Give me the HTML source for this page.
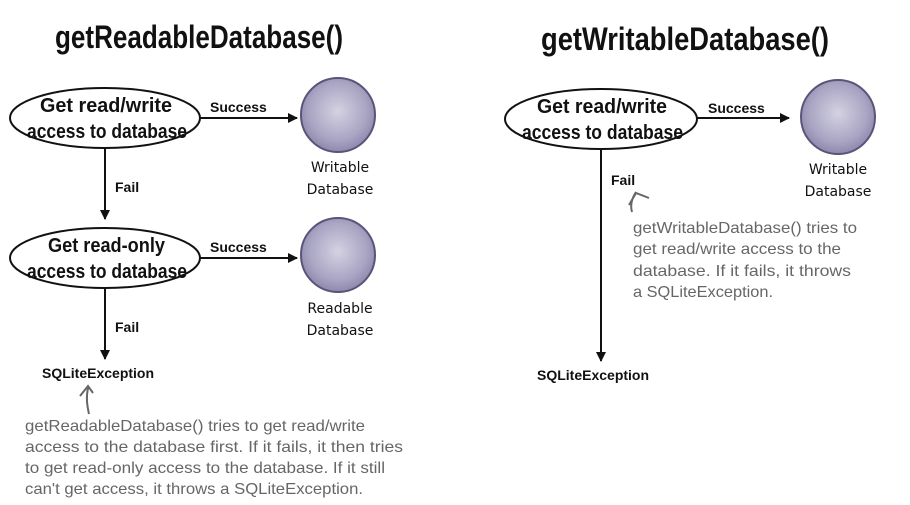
<!DOCTYPE html>
<html><head><meta charset="utf-8"><style>
html,body{margin:0;padding:0;background:#fff;}
svg{display:block;}
.t{font-family:"Liberation Sans Narrow","Liberation Sans",sans-serif;font-weight:bold;fill:#111;}
.b{font-family:"Liberation Sans",sans-serif;font-weight:bold;fill:#111;font-size:14px;}
.l{font-family:"DejaVu Sans",sans-serif;fill:#111;font-size:14px;}
.h{font-family:"Liberation Sans Narrow","Liberation Sans",sans-serif;fill:#666;font-size:16px;}
</style></head><body>
<svg width="910" height="505" viewBox="0 0 910 505" xmlns="http://www.w3.org/2000/svg">
<defs>
<radialGradient id="g" cx="50%" cy="45%" r="55%">
<stop offset="0" stop-color="#d4d2e2"/><stop offset="0.7" stop-color="#a9a5c3"/><stop offset="1" stop-color="#8e89ad"/>
</radialGradient>
<marker id="a" markerWidth="10" markerHeight="10" refX="9" refY="5" orient="auto" markerUnits="userSpaceOnUse"><path d="M0,0 L10,5 L0,10 z" fill="#111"/></marker>
</defs>
<text class="t" x="55" y="48" font-size="32" textLength="288" lengthAdjust="spacingAndGlyphs">getReadableDatabase()</text>
<text class="t" x="541" y="50" font-size="32" textLength="288" lengthAdjust="spacingAndGlyphs">getWritableDatabase()</text>

<!-- left -->
<ellipse cx="105" cy="118" rx="95" ry="30" fill="#fff" stroke="#111" stroke-width="2"/>
<text class="t" x="40" y="112" font-size="20" textLength="132" lengthAdjust="spacingAndGlyphs">Get read/write</text>
<text class="t" x="27" y="138" font-size="20" textLength="160" lengthAdjust="spacingAndGlyphs">access to database</text>
<line x1="200" y1="118" x2="297" y2="118" stroke="#111" stroke-width="2" marker-end="url(#a)"/>
<text class="b" x="210" y="112">Success</text>
<circle cx="338" cy="115" r="37" fill="url(#g)" stroke="#5a5578" stroke-width="2"/>
<text class="l" x="340" y="172" text-anchor="middle">Writable</text>
<text class="l" x="340" y="194" text-anchor="middle">Database</text>
<line x1="105" y1="148" x2="105" y2="219" stroke="#111" stroke-width="2" marker-end="url(#a)"/>
<text class="b" x="115" y="192">Fail</text>

<ellipse cx="105" cy="258" rx="95" ry="30" fill="#fff" stroke="#111" stroke-width="2"/>
<text class="t" x="48" y="252" font-size="20" textLength="117" lengthAdjust="spacingAndGlyphs">Get read-only</text>
<text class="t" x="27" y="278" font-size="20" textLength="160" lengthAdjust="spacingAndGlyphs">access to database</text>
<line x1="200" y1="258" x2="297" y2="258" stroke="#111" stroke-width="2" marker-end="url(#a)"/>
<text class="b" x="210" y="252">Success</text>
<circle cx="338" cy="255" r="37" fill="url(#g)" stroke="#5a5578" stroke-width="2"/>
<text class="l" x="340" y="313" text-anchor="middle">Readable</text>
<text class="l" x="340" y="335" text-anchor="middle">Database</text>
<line x1="105" y1="288" x2="105" y2="359" stroke="#111" stroke-width="2" marker-end="url(#a)"/>
<text class="b" x="115" y="332">Fail</text>
<text class="b" x="42" y="378">SQLiteException</text>
<path d="M89,414 C87,405 86,398 88,388 M80,396 L88,386 L93,393" fill="none" stroke="#666" stroke-width="2"/>
<text class="h" x="25" y="431" textLength="340" lengthAdjust="spacingAndGlyphs">getReadableDatabase() tries to get read/write</text>
<text class="h" x="25" y="452" textLength="378" lengthAdjust="spacingAndGlyphs">access to the database first. If it fails, it then tries</text>
<text class="h" x="25" y="473" textLength="360" lengthAdjust="spacingAndGlyphs">to get read-only access to the database. If it still</text>
<text class="h" x="25" y="494" textLength="338" lengthAdjust="spacingAndGlyphs">can't get access, it throws a SQLiteException.</text>

<!-- right -->
<ellipse cx="601" cy="119" rx="96" ry="30" fill="#fff" stroke="#111" stroke-width="2"/>
<text class="t" x="537" y="113" font-size="20" textLength="130" lengthAdjust="spacingAndGlyphs">Get read/write</text>
<text class="t" x="522" y="139" font-size="20" textLength="161" lengthAdjust="spacingAndGlyphs">access to database</text>
<line x1="697" y1="118" x2="789" y2="118" stroke="#111" stroke-width="2" marker-end="url(#a)"/>
<text class="b" x="708" y="113">Success</text>
<circle cx="838" cy="117" r="37" fill="url(#g)" stroke="#5a5578" stroke-width="2"/>
<text class="l" x="838" y="174" text-anchor="middle">Writable</text>
<text class="l" x="838" y="196" text-anchor="middle">Database</text>
<line x1="601" y1="149" x2="601" y2="361" stroke="#111" stroke-width="2" marker-end="url(#a)"/>
<text class="b" x="611" y="185">Fail</text>
<text class="b" x="537" y="380">SQLiteException</text>
<path d="M632,212 C630,205 632,198 636,192 M629,205 L636,193 L649,198" fill="none" stroke="#666" stroke-width="2"/>
<text class="h" x="633" y="233" textLength="224" lengthAdjust="spacingAndGlyphs">getWritableDatabase() tries to</text>
<text class="h" x="633" y="254" textLength="208" lengthAdjust="spacingAndGlyphs">get read/write access to the</text>
<text class="h" x="633" y="276" textLength="218" lengthAdjust="spacingAndGlyphs">database. If it fails, it throws</text>
<text class="h" x="633" y="297" textLength="140" lengthAdjust="spacingAndGlyphs">a SQLiteException.</text>
</svg>
</body></html>
